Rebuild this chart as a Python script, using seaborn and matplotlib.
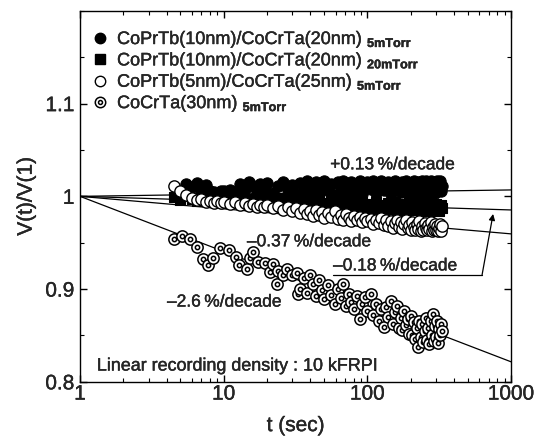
import numpy as np
import pandas as pd
import matplotlib
matplotlib.use("Agg")
import matplotlib.pyplot as plt
import matplotlib.patheffects as pe
import seaborn as sns
from matplotlib.lines import Line2D
from matplotlib.path import Path
from matplotlib.ticker import MultipleLocator, LogLocator, NullFormatter

# ---- data ----
T_SEC = [4.5, 5.0, 5.5, 6.0, 6.5, 7.0, 7.5, 8.0, 8.5, 9.0,
         9.5, 10, 11, 12, 13, 14, 15, 16, 17, 18,
         19, 20, 22, 24, 26, 28, 30, 32, 34, 36,
         38, 40, 42, 44, 46, 48, 50, 53, 56, 59,
         62, 65, 68, 71, 74, 77, 80, 84, 88, 92,
         96, 100, 105, 110, 115, 120, 125, 130, 135, 140,
         145, 150, 155, 160, 165, 170, 175, 180, 185, 190,
         195, 200, 205, 210, 215, 220, 225, 230, 235, 240,
         245, 250, 255, 260, 265, 270, 275, 280, 285, 290,
         295, 300, 305, 310, 315, 320, 325, 330]

# CoPrTb(10nm)/CoCrTa(20nm) 5mTorr  (filled circles)
V_10NM_5M = [np.nan, np.nan, 1.013, 1.010, 1.014, 1.008, 1.012, 1.006, 1.005, 1.003,
             1.006, 1.006, 1.007, 1.005, 1.013, 1.008, 1.015, 1.011, 1.004, 1.013,
             1.009, 1.014, 1.004, 1.011, 1.015, 1.007, 1.012, 1.002, 1.014, 1.009,
             1.016, 1.005, 1.012, 1.015, 1.003, 1.010, 1.016, 1.007, 1.013, 1.001,
             1.015, 1.009, 1.016, 1.004, 1.012, 1.015, 1.006, 1.013, 1.016, 1.002,
             1.011, 1.015, 1.008, 1.016, 1.004, 1.013, 1.016, 1.007, 1.012, 1.015,
             1.003, 1.010, 1.016, 1.008, 1.013, 1.005, 1.015, 1.011, 1.017, 1.002,
             1.009, 1.014, 1.006, 1.016, 1.011, 1.003, 1.015, 1.008, 1.013, 1.017,
             1.005, 1.012, 1.016, 1.009, 1.001, 1.014, 1.017, 1.007, 1.012, 1.015,
             1.004, 1.010, 1.016, 1.008, 1.013, 1.017, 1.006, 1.011]

# CoPrTb(10nm)/CoCrTa(20nm) 20mTorr  (filled squares)
V_10NM_20M = [0.999, 0.996, 1.000, 0.997, 0.995, 0.999, 0.996, 0.998, 0.994, 0.997,
              0.995, 0.998, 0.993, 0.996, 0.999, 0.994, 0.997, 0.992, 0.996, 0.999,
              0.993, 0.997, 0.991, 0.995, 0.998, 0.992, 0.996, 0.990, 0.994, 0.998,
              0.991, 0.995, 0.989, 0.994, 0.997, 0.990, 0.993, 0.988, 0.996, 0.991,
              0.994, 0.989, 0.993, 0.996, 0.988, 0.992, 0.995, 0.987, 0.991, 0.994,
              0.988, 0.992, 0.986, 0.990, 0.994, 0.987, 0.991, 0.985, 0.989, 0.993,
              0.986, 0.990, 0.994, 0.985, 0.988, 0.992, 0.986, 0.990, 0.984, 0.989,
              0.993, 0.987, 0.991, 0.985, 0.989, 0.993, 0.986, 0.990, 0.984, 0.988,
              0.992, 0.985, 0.989, 0.993, 0.986, 0.990, 0.984, 0.988, 0.991, 0.985,
              0.989, 0.992, 0.986, 0.990, 0.984, 0.988, 0.991, 0.987]

# CoPrTb(5nm)/CoCrTa(25nm) 5mTorr  (open circles)
V_5NM_5M = [1.011, 1.006, 1.001, 0.998, 0.996, 0.997, 0.994, 0.995, 0.993, 0.995,
            0.993, 0.994, 0.992, 0.994, 0.991, 0.993, 0.990, 0.992, 0.988, 0.991,
            0.989, 0.991, 0.987, 0.990, 0.985, 0.988, 0.984, 0.987, 0.982, 0.986,
            0.981, 0.984, 0.979, 0.985, 0.980, 0.983, 0.977, 0.982, 0.978, 0.984,
            0.976, 0.980, 0.975, 0.981, 0.977, 0.973, 0.979, 0.974, 0.978, 0.972,
            0.977, 0.973, 0.976, 0.970, 0.975, 0.971, 0.977, 0.969, 0.974, 0.968,
            0.973, 0.966, 0.971, 0.975, 0.967, 0.972, 0.965, 0.970, 0.974, 0.966,
            0.969, 0.964, 0.972, 0.967, 0.964, 0.970, 0.965, 0.973, 0.963, 0.968,
            0.964, 0.971, 0.966, 0.964, 0.969, 0.965, 0.972, 0.963, 0.967, 0.964,
            0.970, 0.964, 0.968, 0.963, 0.966, 0.970, 0.963, 0.968]

# CoCrTa(30nm) 5mTorr  (double circles)
T_COCRTA = [4.5, 5.1, 5.8, 6.5, 7.2, 7.8, 8.4, 9.4, 10.9, 12.2,
            12.8, 14.5, 15.2, 16.1, 17.4, 19.4, 21, 22.1, 23.4, 24,
            25.7, 27.4, 29.7, 32.2, 33,
            34, 36, 38, 40, 42, 44, 46, 48, 50, 53,
            56, 59, 62, 65, 68, 71, 74, 77, 80, 84,
            88, 92, 96, 100, 105, 110, 115, 120, 125, 130,
            135, 140, 145, 150, 155, 160, 165, 170, 175, 180,
            185, 190, 195, 200, 205, 210, 215, 220, 225, 230,
            235, 240, 245, 250, 255, 260, 265, 270, 275, 280,
            285, 290, 295, 300, 305, 310, 315, 320, 325, 330]
V_COCRTA = [0.954, 0.957, 0.954, 0.945, 0.932, 0.926, 0.934, 0.944, 0.942, 0.935,
            0.926, 0.922, 0.933, 0.940, 0.929, 0.928, 0.918, 0.927, 0.906, 0.920,
            0.915, 0.922, 0.915, 0.917, 0.895,
            0.900, 0.912, 0.896, 0.915, 0.905, 0.893, 0.910, 0.899, 0.889, 0.904,
            0.894, 0.884, 0.900, 0.890, 0.906, 0.882, 0.895, 0.886, 0.879, 0.893,
            0.868, 0.884, 0.891, 0.876, 0.895, 0.872, 0.884, 0.866, 0.878, 0.859,
            0.881, 0.870, 0.887, 0.862, 0.875, 0.882, 0.858, 0.869, 0.856, 0.876,
            0.861, 0.868, 0.852, 0.871, 0.850, 0.864, 0.846, 0.858, 0.837, 0.866,
            0.848, 0.862, 0.843, 0.855, 0.869, 0.845, 0.858, 0.841, 0.866, 0.850,
            0.873, 0.844, 0.860, 0.848, 0.866, 0.842, 0.857, 0.851, 0.862, 0.855]

# fitted lines, as drawn: change of V(t)/V(1) in % per decade, starting at (1, 1)
FIT_SLOPE = [0.23, -0.49, -1.35, -5.95]
FIT_T = [1, 1000]

LABELS = [
    r"CoPrTb(10nm)/CoCrTa(20nm) $_{\mathbf{5mTorr}}$",
    r"CoPrTb(10nm)/CoCrTa(20nm) $_{\mathbf{20mTorr}}$",
    r"CoPrTb(5nm)/CoCrTa(25nm) $_{\mathbf{5mTorr}}$",
    r"CoCrTa(30nm) $_{\mathbf{5mTorr}}$",
]
RATE_TEXT = ["+0.13\u2009%/decade", "\u20130.18\u2009%/decade",
             "\u20130.37\u2009%/decade", "\u20132.6\u2009%/decade"]
XTICKS = [1, 10, 100, 1000]
XTICK_LABELS = ["1", "10", "100", "1000"]
YTICKS = [0.8, 0.9, 1.0, 1.1]
YTICK_LABELS = ["0.8", "0.9", "1", "1.1"]

sns.set_theme(style="ticks")
plt.rcParams["font.family"] = ["Liberation Sans", "DejaVu Sans"]
plt.rcParams["mathtext.fontset"] = "custom"
plt.rcParams["mathtext.rm"] = "Liberation Sans"
plt.rcParams["mathtext.bf"] = "Liberation Sans:bold"
plt.rcParams["axes.linewidth"] = 1.0

# double-circle marker: outer ring with a small inner ring
RING = Path.make_compound_path(Path.unit_circle(), Path.circle((0, 0), 0.38))

fig = plt.figure(figsize=(5.37, 4.39), dpi=100)
ax = fig.add_axes([0.149, 0.128, 0.803, 0.845])

# fit lines (behind the points)
for slope in FIT_SLOPE:
    fit = pd.DataFrame({"t": FIT_T})
    fit["v"] = 1 + slope / 100 * np.log10(fit["t"])
    sns.lineplot(data=fit, x="t", y="v", color="black", linewidth=0.9, ax=ax, zorder=1)

df = pd.DataFrame({"t": T_SEC, "a": V_10NM_5M, "b": V_10NM_20M, "c": V_5NM_5M})
ms = 66
sns.scatterplot(data=df, x="t", y="b", marker="s", s=ms * 0.85, color="black",
                edgecolor="black", linewidth=0.8, ax=ax, zorder=2)
sns.scatterplot(data=df, x="t", y="a", marker="o", s=ms, color="black",
                edgecolor="black", linewidth=0.8, ax=ax, zorder=3)
sns.scatterplot(data=df, x="t", y="c", marker="o", s=ms, color="white",
                edgecolor="black", linewidth=1.0, ax=ax, zorder=4)
dfd = pd.DataFrame({"t": T_COCRTA, "v": V_COCRTA})
sns.scatterplot(data=dfd, x="t", y="v", marker=RING, s=ms, color="white",
                edgecolor="black", linewidth=1.1, ax=ax, zorder=5)

ax.set_xscale("log")
ax.set_xlim(1, 1000)
ax.set_ylim(0.8, 1.2)
ax.set_xticks(XTICKS, labels=XTICK_LABELS)
ax.set_yticks(YTICKS, labels=YTICK_LABELS)
ax.xaxis.set_minor_locator(LogLocator(base=10, subs=np.arange(2, 10)))
ax.xaxis.set_minor_formatter(NullFormatter())
ax.yaxis.set_minor_locator(MultipleLocator(0.05))
ax.tick_params(which="both", direction="in", top=True, right=True, color="black")
ax.tick_params(which="major", length=5, width=1.0, labelsize=15)
ax.tick_params(which="minor", length=3, width=0.8)
ax.tick_params(axis="x", which="major", pad=2)
ax.tick_params(axis="y", which="major", pad=4)
for sp in ax.spines.values():
    sp.set_color("black")

ax.set_xlabel("t (sec)", fontsize=15, labelpad=9)
ax.set_ylabel("V(t)/V(1)", fontsize=15, labelpad=7)

# rate annotations
ax.text(55, 1.034, RATE_TEXT[0], fontsize=12.5, va="center", ha="left")
ax.text(57.6, 0.925, RATE_TEXT[1], fontsize=12.5, va="center", ha="left")
ax.text(14.5, 0.951, RATE_TEXT[2], fontsize=12.5, va="center", ha="left")
ax.text(4.03, 0.886, RATE_TEXT[3], fontsize=12.5, va="center", ha="left")
ax.plot([57.6, 627], [0.9154, 0.9154], color="black", linewidth=0.9)
ax.annotate("", xy=(748, 0.981), xytext=(627, 0.9154),
            arrowprops=dict(arrowstyle="-|>", color="black", lw=0.9,
                            mutation_scale=9, shrinkA=0, shrinkB=0))
ax.text(1.31, 0.817, "Linear recording density : 10 kFRPI", fontsize=12.9,
        va="center", ha="left")

handles = [
    Line2D([], [], ls="none", marker="o", mfc="black", mec="black", ms=7.5),
    Line2D([], [], ls="none", marker="s", mfc="black", mec="black", ms=7),
    Line2D([], [], ls="none", marker="o", mfc="white", mec="black", ms=7.5, mew=1.0),
    Line2D([], [], ls="none", marker=RING, mfc="white", mec="black", ms=7.5, mew=1.1),
]
leg = ax.legend(handles, LABELS, loc="upper left", bbox_to_anchor=(0.0, 0.98),
                frameon=False, fontsize=13, handlelength=1.0, handletextpad=0.45,
                labelspacing=0.02, borderpad=0.4, borderaxespad=0.2)

# the scanned print has slightly heavier type
heavy = [pe.withStroke(linewidth=0.25, foreground="black")]
texts = list(ax.texts) + list(leg.get_texts()) + ax.get_xticklabels() + ax.get_yticklabels()
texts += [ax.xaxis.label, ax.yaxis.label]
for txt in texts:
    txt.set_path_effects(heavy)

fig.savefig("out.png", dpi=100)
